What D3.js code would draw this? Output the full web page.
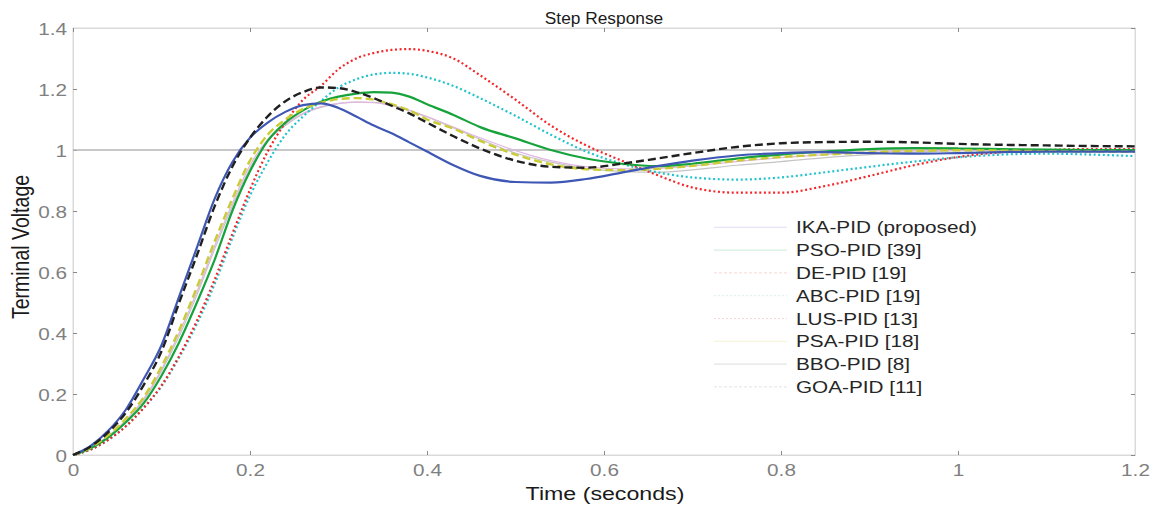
<!DOCTYPE html>
<html><head><meta charset="utf-8">
<script src="https://cdn.jsdelivr.net/npm/d3@7"></script>
<style>html,body{margin:0;padding:0;background:#fff;}svg{display:block;}</style>
</head><body>
<svg id="chart" width="1157" height="506"></svg>
<script>
// ---- data ----
const time = [0,0.02,0.04,0.06,0.08,0.10,0.12,0.14,0.16,0.18,0.20,0.22,0.24,0.26,0.28,0.30,0.32,0.34,0.36,0.38,0.40,0.43,0.46,0.50,0.54,0.58,0.62,0.66,0.70,0.75,0.80,0.85,0.90,0.95,1.00,1.05,1.10,1.15,1.20];
const ikaPID = [0,0.03,0.08,0.15,0.25,0.36,0.52,0.68,0.84,0.96,1.04,1.09,1.125,1.147,1.153,1.138,1.11,1.08,1.055,1.025,0.995,0.95,0.915,0.895,0.893,0.905,0.926,0.947,0.965,0.982,0.99,0.993,0.99,0.988,0.99,0.993,0.995,0.995,0.995];
const psoPID = [0,0.022,0.058,0.108,0.17,0.26,0.37,0.50,0.64,0.80,0.93,1.03,1.09,1.13,1.158,1.175,1.185,1.19,1.188,1.175,1.15,1.115,1.075,1.038,1.0,0.972,0.955,0.947,0.955,0.972,0.985,0.995,1.003,1.006,1.005,1.003,1.001,1.0,1.0];
const dePID = [0,0.018,0.05,0.095,0.155,0.228,0.325,0.44,0.575,0.725,0.87,0.995,1.09,1.165,1.21,1.265,1.30,1.318,1.328,1.331,1.325,1.30,1.245,1.165,1.08,1.015,0.965,0.918,0.877,0.86,0.86,0.882,0.915,0.95,0.977,0.993,1.0,1.003,1.003];
const abcPID = [0,0.018,0.05,0.095,0.155,0.225,0.32,0.43,0.56,0.71,0.85,0.96,1.05,1.11,1.16,1.205,1.232,1.248,1.253,1.25,1.238,1.21,1.17,1.112,1.05,0.995,0.955,0.927,0.91,0.903,0.91,0.927,0.945,0.962,0.976,0.985,0.988,0.985,0.98];
const lusPID = [0,0.024,0.062,0.115,0.185,0.28,0.40,0.535,0.685,0.825,0.95,1.035,1.085,1.12,1.142,1.153,1.157,1.155,1.145,1.13,1.11,1.075,1.04,0.998,0.965,0.945,0.938,0.94,0.948,0.962,0.975,0.985,0.992,0.997,0.999,1.0,1.0,0.999,0.998];
const psaPID = [0,0.025,0.065,0.12,0.19,0.29,0.41,0.55,0.70,0.84,0.965,1.05,1.10,1.135,1.155,1.167,1.17,1.165,1.15,1.13,1.10,1.07,1.03,0.985,0.953,0.937,0.934,0.938,0.948,0.965,0.977,0.985,0.992,0.997,0.999,0.998,0.996,0.995,0.994];
const bboPID = [0,0.028,0.075,0.14,0.23,0.34,0.50,0.655,0.815,0.945,1.04,1.11,1.16,1.19,1.205,1.203,1.19,1.17,1.145,1.12,1.09,1.045,1.005,0.965,0.945,0.942,0.955,0.972,0.99,1.01,1.022,1.026,1.027,1.025,1.02,1.017,1.015,1.013,1.012];
const goaPID = [0,0.023,0.06,0.112,0.18,0.275,0.39,0.525,0.675,0.815,0.94,1.03,1.08,1.118,1.14,1.152,1.157,1.156,1.147,1.13,1.108,1.072,1.035,0.99,0.96,0.94,0.93,0.927,0.935,0.95,0.962,0.975,0.985,0.993,0.998,1.0,1.0,1.0,1.0];
const legendLabels = ["IKA-PID (proposed)","PSO-PID [39]","DE-PID [19]","ABC-PID [19]","LUS-PID [13]","PSA-PID [18]","BBO-PID [8]","GOA-PID [11]"];
const xTicks = [0,0.2,0.4,0.6,0.8,1,1.2];
const yTicks = [0,0.2,0.4,0.6,0.8,1,1.2,1.4];

// ---- styles (drawing order) ----
const series = [
  {name:"GOA", values:goaPID, color:"#c4c4c4", width:1.2, dash:null},
  {name:"LUS", values:lusPID, color:"#e2b6e2", width:1.2, dash:null},
  {name:"ABC", values:abcPID, color:"#22c3cc", width:2.2, dash:"2,2.6"},
  {name:"DE",  values:dePID,  color:"#f4262a", width:2.2, dash:"2,2.6"},
  {name:"PSO", values:psoPID, color:"#17a33b", width:2.2, dash:null},
  {name:"PSA", values:psaPID, color:"#c9cc36", width:2.4, dash:"8,4"},
  {name:"IKA", values:ikaPID, color:"#3f57b4", width:2.2, dash:null},
  {name:"BBO", values:bboPID, color:"#202020", width:2.4, dash:"8,4"}
];
const legendStyles = [
  {color:"#8f8fd8", dash:null},
  {color:"#4fc47a", dash:null},
  {color:"#f07a7a", dash:"3,2"},
  {color:"#8fd8a8", dash:"2,2"},
  {color:"#f07a7a", dash:"2,2"},
  {color:"#d8d870", dash:null},
  {color:"#909090", dash:null},
  {color:"#a0a0a0", dash:"3,2"}
];

const svg = d3.select("#chart");
const M = {left:73, right:1135, top:28, bottom:455};
const SX = 1.22; // horizontal text stretch of the figure
const x = d3.scaleLinear().domain([0,1.2]).range([M.left, M.right]);
const y = d3.scaleLinear().domain([0,1.4]).range([M.bottom, M.top]);
const tickColor = "#7f7f7f";
const fontFam = "Liberation Sans, Arial, Helvetica, sans-serif";

// frame
svg.append("rect").attr("x",M.left).attr("y",M.top).attr("width",M.right-M.left).attr("height",M.bottom-M.top)
  .attr("fill","none").attr("stroke","#dadada").attr("stroke-width",1);

// axes via d3
const gx = svg.append("g").attr("transform",`translate(0,${M.bottom})`)
  .call(d3.axisBottom(x).tickValues(xTicks).tickFormat(d3.format("~g")).tickSize(-4).tickPadding(0));
const gy = svg.append("g").attr("transform",`translate(${M.left},0)`)
  .call(d3.axisLeft(y).tickValues(yTicks).tickFormat(d3.format("~g")).tickSize(-4).tickPadding(0));
const gxt = svg.append("g").attr("transform",`translate(0,${M.top})`)
  .call(d3.axisTop(x).tickValues(xTicks).tickFormat("").tickSize(-4));
const gyr = svg.append("g").attr("transform",`translate(${M.right},0)`)
  .call(d3.axisRight(y).tickValues(yTicks).tickFormat("").tickSize(-4));
[gx,gy,gxt,gyr].forEach(g=>{
  g.select(".domain").attr("stroke","#dadada");
  g.selectAll(".tick line").attr("stroke","#8a8a8a");
});
gx.selectAll(".tick text").attr("fill",tickColor).attr("font-size",17).attr("font-family",fontFam)
  .attr("y",null).attr("dy",null)
  .attr("transform","translate(0,21) scale(" + SX + ",1)").attr("text-anchor","middle");
gy.selectAll(".tick text").attr("fill",tickColor).attr("font-size",17).attr("font-family",fontFam)
  .attr("x",null).attr("dy",null)
  .attr("transform","translate(-6,6) scale(" + SX + ",1)").attr("text-anchor","end");

// reference line at 1
svg.append("line").attr("x1",M.left).attr("x2",M.right).attr("y1",y(1)).attr("y2",y(1))
  .attr("stroke","#b4b4b4").attr("stroke-width",1.5);

// curves
const line = d3.line().x((d,i)=>x(time[i])).y(d=>y(d)).curve(d3.curveMonotoneX);
svg.append("g").selectAll("path").data(series).join("path")
  .attr("d",d=>line(d.values)).attr("fill","none")
  .attr("stroke",d=>d.color).attr("stroke-width",d=>d.width)
  .attr("stroke-dasharray",d=>d.dash).attr("stroke-linejoin","round");

// legend
const lg = svg.append("g");
legendLabels.forEach((lab,i)=>{
  const yy = 227.3 + i*22.8;
  lg.append("line").attr("x1",714).attr("x2",787).attr("y1",yy).attr("y2",yy)
    .attr("stroke",legendStyles[i].color).attr("stroke-width",1).attr("stroke-opacity",0.3)
    .attr("stroke-dasharray",legendStyles[i].dash);
  lg.append("text").text(lab).attr("transform",`translate(796,${yy+6}) scale(${SX},1)`)
    .attr("font-size",17).attr("font-family",fontFam).attr("fill","#262626");
});

// titles
svg.append("text").text("Step Response").attr("transform",`translate(604,24) scale(1.05,1)`)
  .attr("text-anchor","middle").attr("font-size",16.5).attr("font-family",fontFam).attr("fill","#1a1a1a");
svg.append("text").text("Time (seconds)").attr("transform",`translate(605,500) scale(${SX},1)`)
  .attr("text-anchor","middle").attr("font-size",19).attr("font-family",fontFam).attr("fill","#1a1a1a");
svg.append("text").text("Terminal Voltage").attr("transform",`translate(29,247) scale(${SX},1) rotate(-90)`)
  .attr("text-anchor","middle").attr("font-size",19.5).attr("font-family",fontFam).attr("fill","#1a1a1a");
</script>
</body></html>
